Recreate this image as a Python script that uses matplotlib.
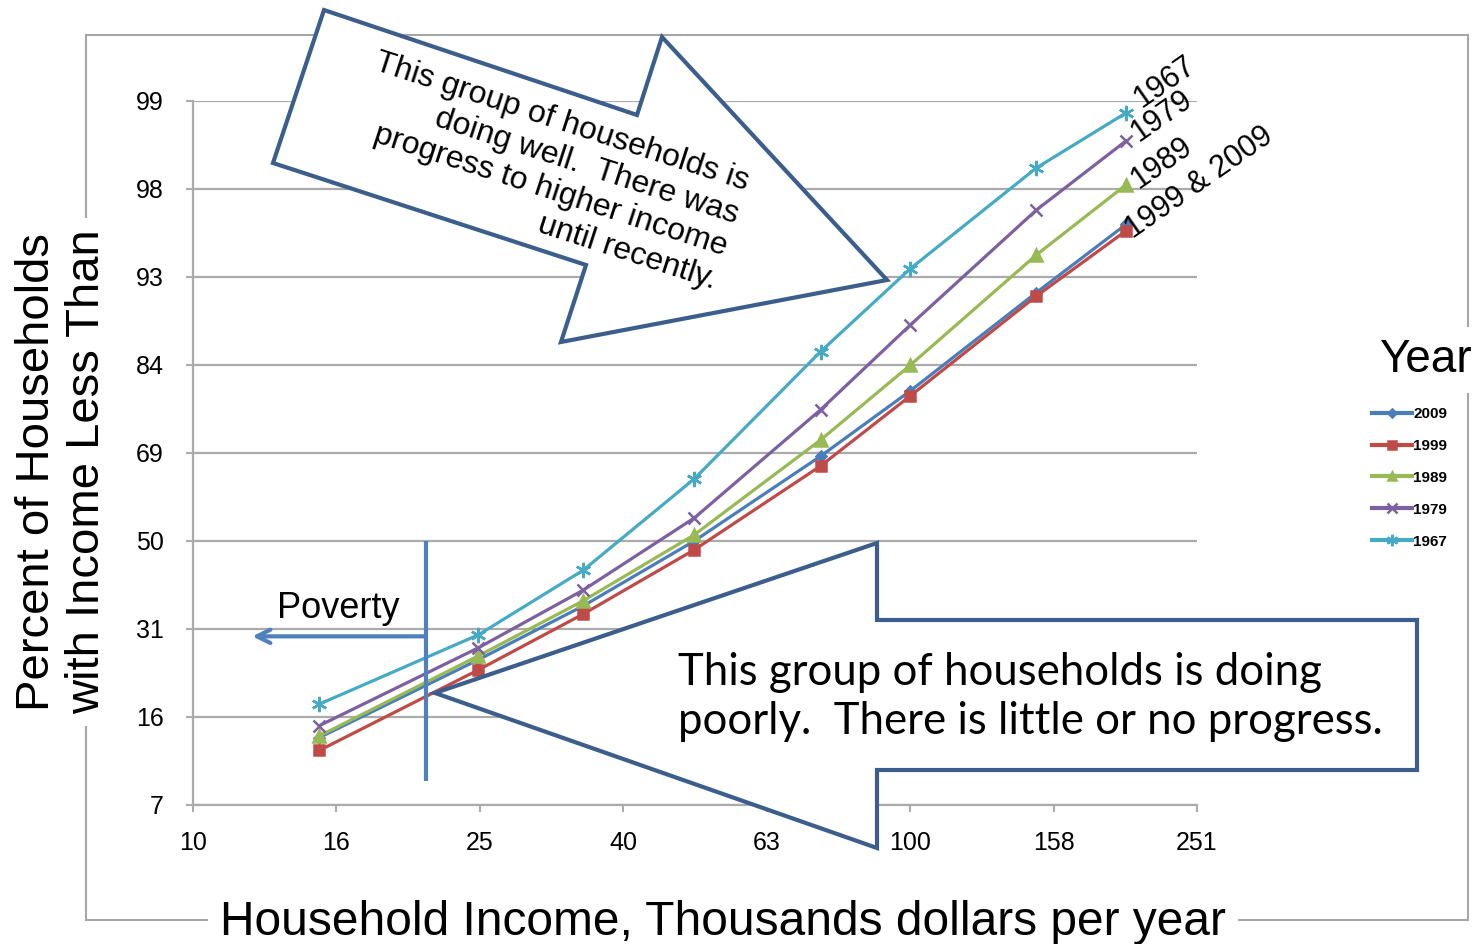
import math
import numpy as np
import matplotlib
matplotlib.use('Agg')
import matplotlib.pyplot as plt
from matplotlib.patches import Polygon, Rectangle
from matplotlib.ticker import FixedLocator, NullLocator

plt.rcParams['font.family'] = ['Liberation Sans', 'DejaVu Sans']

W, H = 1482, 944

# income brackets, thousands of dollars per year
income = [15, 25, 35, 50, 75, 100, 150, 200]

# percent of households with income below each bracket
pct_2009 = [13.2, 25.0, 35.6, 50.0, 68.5, 80.3, 92.1, 96.4]
pct_1999 = [11.7, 23.2, 33.9, 48.0, 66.5, 79.5, 91.8, 96.1]
pct_1989 = [13.4, 25.7, 36.7, 51.4, 71.7, 84.1, 94.8, 97.85]
pct_1979 = [14.7, 27.2, 39.0, 55.2, 77.2, 89.0, 97.0, 98.85]
pct_1967 = [17.7, 29.7, 43.4, 63.8, 85.9, 93.9, 98.3, 99.25]

years = ['2009', '1999', '1989', '1979', '1967']
series = [pct_2009, pct_1999, pct_1989, pct_1979, pct_1967]
colors = ['#4A7EBB', '#BE4B48', '#98B954', '#7D60A0', '#46AAC5']
markers = ['D', 's', '^', 'x', (6, 2, 0)]
msizes = [5, 7, 8, 9, 11]

xtick_labels = ['10', '16', '25', '40', '63', '100', '158', '251']
ytick_labels = ['7', '16', '31', '50', '69', '84', '93', '98', '99']

# poverty threshold (thousands) and where the arrow ends
poverty_income = 21.1
poverty_arrow_end = 12.1

# normal probability scale: percent -> standard deviations
z_grid = np.linspace(-6, 6, 120001)
cdf_grid = 0.5 * (1 + np.vectorize(math.erf)(z_grid / math.sqrt(2)))

def to_z(pct):
    return np.interp(np.asarray(pct, dtype=float) / 100.0, cdf_grid, z_grid)

def px(points):
    # pixel positions on the picture -> figure fraction
    return [(x / W, 1 - y / H) for x, y in points]

fig = plt.figure(figsize=(W / 100, H / 100), dpi=100)
ax = fig.add_axes([193 / W, 1 - 805 / H, (1197 - 193) / W, (805 - 101) / H])
ax.set_xscale('log')

lines = []
for yr, vals, c, m, ms in zip(years, series, colors, markers, msizes):
    ln, = ax.plot(income, to_z(vals), color=c, lw=2.3, marker=m, ms=ms,
                  mec=c, mfc=c, mew=1.8, label=yr)
    lines.append(ln)

ax.set_xlim(10, 10 ** 2.4)
ax.set_ylim(-1.5, 2.5)
ax.xaxis.set_major_locator(FixedLocator(10 ** (1 + 0.2 * np.arange(len(xtick_labels)))))
ax.xaxis.set_minor_locator(NullLocator())
ax.set_xticklabels(xtick_labels)
ax.set_yticks(np.arange(-1.5, 2.51, 0.5))
ax.set_yticklabels(ytick_labels)

grey = '#ABABAB'
ax.yaxis.grid(True, color=grey, lw=1.6)
ax.set_axisbelow(True)
for s in ['top', 'right']:
    ax.spines[s].set_visible(False)
for s in ['left', 'bottom']:
    ax.spines[s].set_color(grey)
    ax.spines[s].set_linewidth(1.6)
ax.tick_params(axis='both', direction='out', length=5, width=1.5, color=grey, labelsize=18)
ax.tick_params(axis='x', pad=14)
ax.tick_params(axis='y', pad=16)

# year labels at the ends of the lines
end_labels = [('1967', pct_1967, (11, 3.5)),
              ('1979', pct_1979, (9, -1)),
              ('1989', pct_1989, (9, -3)),
              ('1999 & 2009', pct_1999, (5, -6))]
for txt, vals, off in end_labels:
    ax.annotate(txt, xy=(income[-1], to_z(vals[-1])), xytext=off, textcoords='offset points',
                rotation=35, rotation_mode='anchor', ha='left', va='baseline',
                fontsize=22, annotation_clip=False)

# poverty marker
pov_blue = '#4F81BD'
ax.vlines(poverty_income, to_z(8.6), to_z(50), color=pov_blue, lw=3, zorder=6)
ax.annotate('', xy=(poverty_arrow_end, to_z(29.4)), xytext=(poverty_income, to_z(29.4)),
            arrowprops=dict(arrowstyle='->', color=pov_blue, lw=3, mutation_scale=24,
                            shrinkA=0, shrinkB=0))
ax.text(13.1, to_z(33.1), 'Poverty', fontsize=26, va='baseline', ha='left')

leg = ax.legend(handles=lines, labels=years, loc='upper left',
                bbox_to_anchor=(1372 / W, 1 - 407 / H), bbox_transform=fig.transFigure,
                frameon=False, prop={'size': 11, 'weight': 'bold'}, handlelength=2.6,
                handletextpad=0.1, labelspacing=1.17, borderpad=0, borderaxespad=0,
                markerscale=0.75)
for hl in leg.get_lines():
    hl.set_linewidth(3)

# chart area border
fig.add_artist(Rectangle((86 / W, 1 - 920 / H), (1468 - 86) / W, (920 - 35) / H,
                         transform=fig.transFigure, fill=False, ec='#A6A6A6', lw=1.5, zorder=1))

white_box = dict(fc='white', ec='none', boxstyle='square,pad=0.25')
fig.text(62 / W, 1 - 472 / H, 'Percent of Households\nwith Income Less Than', rotation=90,
         ha='center', va='center', fontsize=34, linespacing=1.2, bbox=white_box, zorder=5)
fig.text(723 / W, 1 - 935 / H, 'Household Income, Thousands dollars per year',
         ha='center', va='baseline', fontsize=34.5, bbox=white_box, zorder=5)
fig.text(1425 / W, 1 - 360 / H, 'Year', ha='center', va='center', fontsize=33,
         bbox=white_box, zorder=5)

# callout arrows
edge = '#3B5E8C'
up_arrow = px([(324, 10), (637, 115), (662, 37), (887, 280), (561, 342), (586, 265), (273, 163)])
down_arrow = px([(435, 693), (877, 543), (877, 620), (1417, 620), (1417, 770), (877, 770), (877, 848)])
for pts in [up_arrow, down_arrow]:
    fig.add_artist(Polygon(pts, closed=True, transform=fig.transFigure, fc='white',
                           ec=edge, lw=3, joinstyle='miter', zorder=4))

fig.text(732 / W, 1 - 232 / H,
         'This group of households is\ndoing well.  There was\nprogress to higher income\nuntil recently.',
         rotation=-18, rotation_mode='anchor', ha='right', va='center', multialignment='right',
         fontsize=23, linespacing=1.2, zorder=5)
fig.text(678 / W, 1 - 697 / H,
         'This group of households is doing\npoorly.  There is little or no progress.',
         family=['Lato', 'DejaVu Sans'], ha='left', va='center', fontsize=31.5,
         linespacing=1.27, zorder=5)

fig.savefig('out.png', dpi=100)
